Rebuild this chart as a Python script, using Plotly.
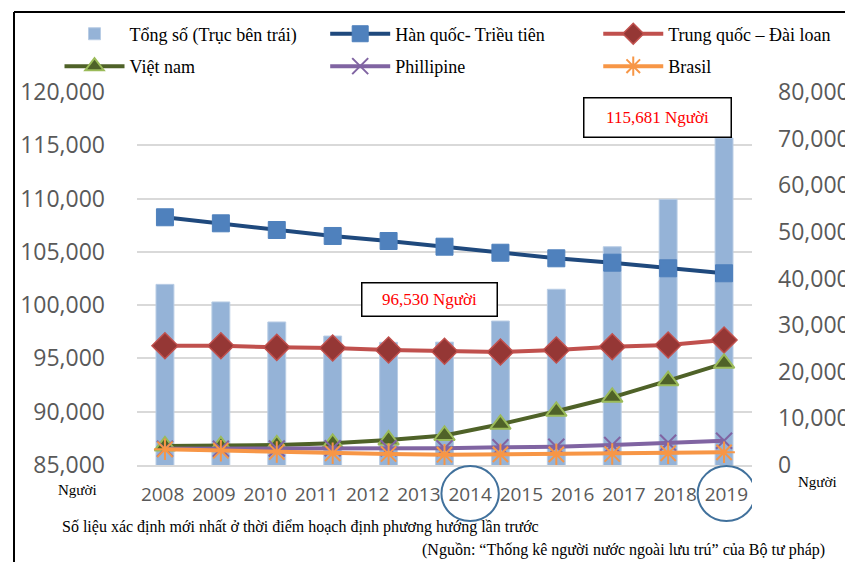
import plotly.graph_objects as go

# ---------------- data ----------------
years = ["2009", "2010", "2011", "2012", "2013", "2014", "2015", "2016", "2017", "2018", "2019"]
tick_labels = ["2008", "2009", "2010", "2011", "2012", "2013", "2014", "2015", "2016", "2017", "2018", "2019"]

total = [101950, 100300, 98420, 97100, 96510, 96530, 98510, 101490, 105480, 109930, 115681]
korea = [53130, 51840, 50400, 49120, 48040, 46820, 45530, 44330, 43390, 42190, 41120]
china = [25590, 25590, 25240, 25090, 24670, 24390, 24240, 24670, 25370, 25740, 26810]
vietnam = [4080, 4100, 4290, 4650, 5360, 6330, 8730, 11520, 14520, 18080, 21810]
philippines = [3500, 3500, 3550, 3580, 3600, 3600, 3800, 3930, 4290, 4780, 5210]
brazil = [3370, 3070, 2790, 2510, 2360, 2210, 2290, 2290, 2360, 2510, 2720]

names = ["Tổng số (Trục bên trái)", "Hàn quốc- Triều tiên", "Trung quốc – Đài loan",
         "Việt nam", "Phillipine", "Brasil"]

SERIF = "Liberation Serif"
SANS = "Open Sans"
AXC = "#595959"

fig = go.Figure()

fig.add_trace(go.Bar(
    x=years, y=total, name=names[0], width=0.32,
    marker=dict(color="#95B3D7", line=dict(color="#B9CDE5", width=1)),
    legend="legend", legendgroup="g0", yaxis="y", xaxis="x"))

line_specs = [
    (korea, names[1], "#1F497D", dict(symbol="square", size=17, color="#4F81BD",
                                       line=dict(color="#4F81BD", width=1)), "legend2", "g1"),
    (china, names[2], "#C0504D", dict(symbol="diamond", size=20, color="#953735",
                                       line=dict(color="#C0504D", width=1.5)), "legend3", "g2"),
    (vietnam, names[3], "#4F6228", dict(symbol="triangle-up", size=18, color="#4F6228",
                                         line=dict(color="#9BBB59", width=2)), "legend", "g3"),
    (philippines, names[4], "#8064A2", dict(symbol="x-thin", size=16, color="#8064A2",
                                             line=dict(color="#8064A2", width=2)), "legend2", "g4"),
    (brazil, names[5], "#F79646", dict(symbol="asterisk", size=18, color="#F79646",
                                        line=dict(color="#F79646", width=2)), "legend3", "g5"),
]
for vals, nm, col, mk, lg, grp in line_specs:
    fig.add_trace(go.Scatter(
        x=years, y=vals, name=nm, mode="lines+markers",
        line=dict(color=col, width=4), marker=mk,
        legend=lg, legendgroup=grp, yaxis="y2", xaxis="x"))

legend_common = dict(orientation="v", font=dict(family=SERIF, size=18, color="black"),
                     bgcolor="rgba(0,0,0,0)", itemwidth=60, tracegroupgap=6,
                     xanchor="left", yanchor="top", y=1.205)

# page body has an 8px margin, so the figure is drawn 8px in from the window edge
fig.update_layout(
    width=845, height=554,
    margin=dict(l=129, r=101, t=84, b=97, autoexpand=False),
    paper_bgcolor="white", plot_bgcolor="white",
    bargap=0.6,
    legend=dict(x=-0.126, **legend_common),
    legend2=dict(x=0.306, **legend_common),
    legend3=dict(x=0.75, **legend_common),
    xaxis=dict(type="category", categoryorder="array", categoryarray=years,
               range=[-0.5, len(years) - 0.5], showticklabels=False, showgrid=False,
               showline=True, linecolor="#D9D9D9", linewidth=2, zeroline=False, ticks=""),
    xaxis3=dict(overlaying="x", anchor="y", side="bottom", type="linear",
                range=[-0.5, len(tick_labels) - 0.5],
                tickmode="array", tickvals=list(range(len(tick_labels))), ticktext=tick_labels,
                showgrid=False, showline=False, zeroline=False, ticks="",
                tickfont=dict(family=SANS, size=19, color=AXC), ticklabelstandoff=16),
    yaxis=dict(range=[85000, 120000], tick0=85000, dtick=5000, tickformat=",",
               showgrid=True, gridcolor="#D9D9D9", gridwidth=1.5, zeroline=False,
               showline=False, ticks="", tickfont=dict(family=SANS, size=23, color=AXC),
               ticklabelstandoff=31),
    yaxis2=dict(overlaying="y", side="right", range=[0, 80000], tick0=0, dtick=10000,
                tickformat=",", showgrid=False, zeroline=False, showline=False, ticks="",
                tickfont=dict(family=SANS, size=23, color=AXC), ticklabelstandoff=25),
    showlegend=True,
)

# annotations
ann = [
    dict(text="Người", x=-0.096, y=-0.067, xref="paper", yref="paper",
         xanchor="center", yanchor="middle",
         font=dict(family=SERIF, size=15, color="black"), showarrow=False),
    dict(text="Người", x=1.107, y=-0.046, xref="paper", yref="paper",
         xanchor="center", yanchor="middle",
         font=dict(family=SERIF, size=15, color="black"), showarrow=False),
    dict(text="96,530 Người", x=0.4748, y=0.4424, xref="paper", yref="paper",
         xanchor="center", yanchor="middle",
         font=dict(family=SERIF, size=17, color="#FF0000"), showarrow=False,
         bordercolor="black", borderwidth=1.5, borderpad=6, bgcolor="white",
         width=122, height=20),
    dict(text="115,681 Người", x=0.847, y=0.9316, xref="paper", yref="paper",
         xanchor="center", yanchor="middle",
         font=dict(family=SERIF, size=17, color="#FF0000"), showarrow=False,
         bordercolor="black", borderwidth=1.5, borderpad=6, bgcolor="white",
         width=134, height=26),
    dict(text="Số liệu xác định mới nhất ở thời điểm hoạch định phương hướng lần trước",
         x=-0.1252, y=-0.166, xref="paper", yref="paper", xanchor="left", yanchor="middle",
         font=dict(family=SERIF, size=16, color="black"), showarrow=False),
    dict(text="(Nguồn: “Thống kê người nước ngoài lưu trú” của Bộ tư pháp)",
         x=1.122, y=-0.228, xref="paper", yref="paper", xanchor="right", yanchor="middle",
         font=dict(family=SERIF, size=16, color="black"), showarrow=False),
]
fig.update_layout(annotations=ann)

shapes = []
for idx in (tick_labels.index("2014"), tick_labels.index("2019")):
    shapes.append(dict(type="circle", xref="x3", yref="paper",
                       x0=idx - 0.56, x1=idx + 0.56, y0=-0.003, y1=-0.15,
                       line=dict(color="#41719C", width=2)))
# outer frame (top and left border lines)
shapes.append(dict(type="line", xref="paper", yref="paper", x0=-0.2, x1=1.2,
                   y0=1.2145, y1=1.2145, line=dict(color="black", width=2)))
shapes.append(dict(type="line", xref="paper", yref="paper", x0=-0.2, x1=-0.2,
                   y0=1.2145, y1=-0.3, line=dict(color="black", width=2)))
fig.update_layout(shapes=shapes)

fig.write_html("out.html")
